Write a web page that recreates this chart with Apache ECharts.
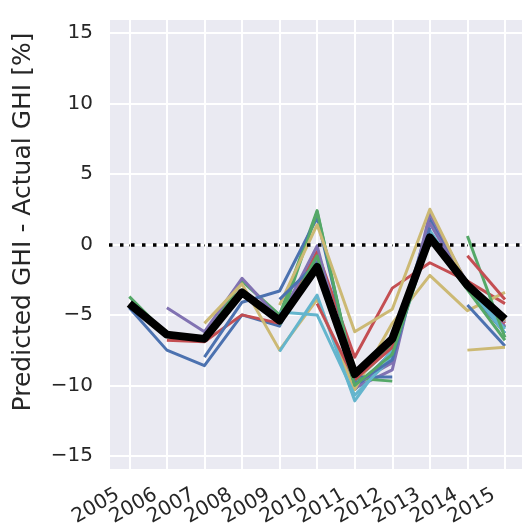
<!DOCTYPE html>
<html>
<head>
<meta charset="utf-8">
<script src="https://cdn.jsdelivr.net/npm/echarts@6/dist/echarts.min.js"></script>
<style>
  html, body { margin: 0; padding: 0; background: #ffffff; }
  #chart { width: 523px; height: 529px; }
</style>
</head>
<body>
<div id="chart"></div>
<script>
// Years on the x axis
const years = [2005, 2006, 2007, 2008, 2009, 2010, 2011, 2012, 2013, 2014, 2015];

// Per-site prediction error (%), null where a site has no data
const blue1   = [-4.5, -7.5, -8.6, -5.0, -5.8, -0.6, -10.3, -7.6, 1.8, -3.1, -6.3];
const blue2   = [null, null, -8.0, -4.1, -3.3, 1.9, -9.4, -9.4, null, null, null];
const blue3   = [null, null, null, null, -3.9, -1.3, -9.9, -8.2, 1.2, null, null];
const blue4   = [null, null, null, null, null, null, null, null, null, -4.3, -7.2];
const green1  = [-3.7, -6.4, -6.6, -2.6, -5.0, 2.4, -9.7, -7.2, 0.9, -2.8, -5.9];
const green2  = [null, null, null, null, -5.6, 2.3, -9.5, -9.7, null, null, null];
const green3  = [null, null, null, null, -5.7, -0.8, -10.0, -7.8, 0.4, -3.2, -6.8];
const green4  = [null, null, null, null, null, null, null, null, null, 0.6, -6.6];
const red1    = [null, -6.8, -6.9, -5.0, -5.6, -0.5, -8.0, -3.1, -1.3, -2.6, -4.2];
const red2    = [null, null, null, null, null, -4.2, -9.6, -7.3, 0.3, -2.7, -5.6];
const red3    = [null, null, null, null, null, null, null, null, null, -0.8, -3.9];
const purple1 = [null, -4.5, -6.2, -2.4, -5.3, -0.1, -10.2, -8.9, 2.2, -2.8, -5.8];
const purple2 = [null, null, null, null, -5.5, -1.0, -9.9, -8.4, 1.5, -3.0, -5.5];
const yellow1 = [null, null, -5.6, -2.8, -7.5, -3.9, -10.3, -5.6, -2.2, -4.7, -3.4];
const yellow2 = [null, null, null, null, -4.3, 1.4, -6.2, -4.6, 2.5, -2.9, -5.4];
const yellow3 = [null, null, null, null, null, null, null, null, null, -7.5, -7.3];
const cyan1   = [null, null, null, null, -7.6, -3.6, -11.1, -7.4, 1.0, -3.1, -6.0];
const cyan2   = [null, null, null, null, -4.8, -5.0, -10.7, -8.0, 0.6, -2.9, -6.3];

// Mean over all sites
const meanErr = [-4.2, -6.4, -6.7, -3.4, -5.4, -1.6, -9.2, -6.7, 0.5, -2.9, -5.3];

const yTitle = 'Predicted GHI - Actual GHI [%]';

const C = {
  blue: '#4C72B0', green: '#55A868', red: '#C44E52',
  purple: '#8172B2', yellow: '#CCB974', cyan: '#64B5CD'
};

const siteLines = [
  [blue1, C.blue], [green1, C.green], [red1, C.red], [purple1, C.purple], [yellow1, C.yellow], [cyan1, C.cyan],
  [blue2, C.blue], [green2, C.green], [red2, C.red], [purple2, C.purple], [yellow2, C.yellow], [cyan2, C.cyan],
  [blue3, C.blue], [green3, C.green], [blue4, C.blue], [green4, C.green], [red3, C.red], [yellow3, C.yellow]
];

const toPairs = vals => years.map((y, i) => [y, vals[i] === null ? '-' : vals[i]]);

const FONT = 'DejaVu Sans';
const TXT = '#262626';

const series = siteLines.map(([vals, color]) => ({
  type: 'line',
  data: toPairs(vals),
  showSymbol: false,
  symbol: 'none',
  silent: true,
  animation: false,
  lineStyle: { color: color, width: 3, cap: 'butt', join: 'round' }
}));

series.push({
  type: 'line',
  data: toPairs(meanErr),
  symbol: 'none',
  silent: true,
  animation: false,
  z: 5,
  lineStyle: { color: '#000000', width: 8, cap: 'butt', join: 'round' },
  markLine: {
    silent: true,
    symbol: 'none',
    animation: false,
    label: { show: false },
    lineStyle: { color: '#000000', width: 3.5, type: [3.5, 7.5], cap: 'butt' },
    data: [{ yAxis: 0 }]
  }
});

const chart = echarts.init(document.getElementById('chart'), null, { renderer: 'canvas' });
chart.setOption({
  animation: false,
  backgroundColor: '#ffffff',
  grid: {
    left: 109, right: 0, top: 19, bottom: 57,
    show: true, backgroundColor: '#EAEAF2', borderWidth: 0
  },
  xAxis: {
    type: 'value',
    min: 2004.46,
    max: 2015.48,
    splitNumber: 11,
    minInterval: 1,
    maxInterval: 1,
    axisLine: { show: false },
    axisTick: { show: true, length: 2, lineStyle: { color: '#555555', width: 1 } },
    splitLine: { show: true, lineStyle: { color: '#ffffff', width: 2 } },
    axisLabel: {
      rotate: 30,
      margin: 17,
      padding: [0, 13, 0, 0],
      fontFamily: FONT,
      fontSize: 20,
      color: TXT,
      showMinLabel: false,
      showMaxLabel: false,
      formatter: v => (Math.abs(v - Math.round(v)) < 1e-6 ? String(Math.round(v)) : '')
    }
  },
  yAxis: {
    type: 'value',
    min: -16,
    max: 16,
    splitNumber: 6,
    minInterval: 5,
    maxInterval: 5,
    axisLine: { show: false },
    axisTick: { show: false },
    splitLine: { show: true, lineStyle: { color: '#ffffff', width: 2 } },
    axisLabel: {
      margin: 16,
      fontFamily: FONT,
      fontSize: 20,
      color: TXT,
      formatter: v => (v % 5 === 0 ? (v < 0 ? '\u2212' + Math.abs(v) : String(v)) : '')
    }
  },
  graphic: [{
    type: 'text',
    x: 23,
    y: 222,
    rotation: Math.PI / 2,
    silent: true,
    style: {
      text: yTitle,
      fontFamily: FONT,
      fontSize: 25,
      fill: TXT,
      textAlign: 'center',
      textVerticalAlign: 'middle'
    }
  }],
  series: series
});
</script>
</body>
</html>
